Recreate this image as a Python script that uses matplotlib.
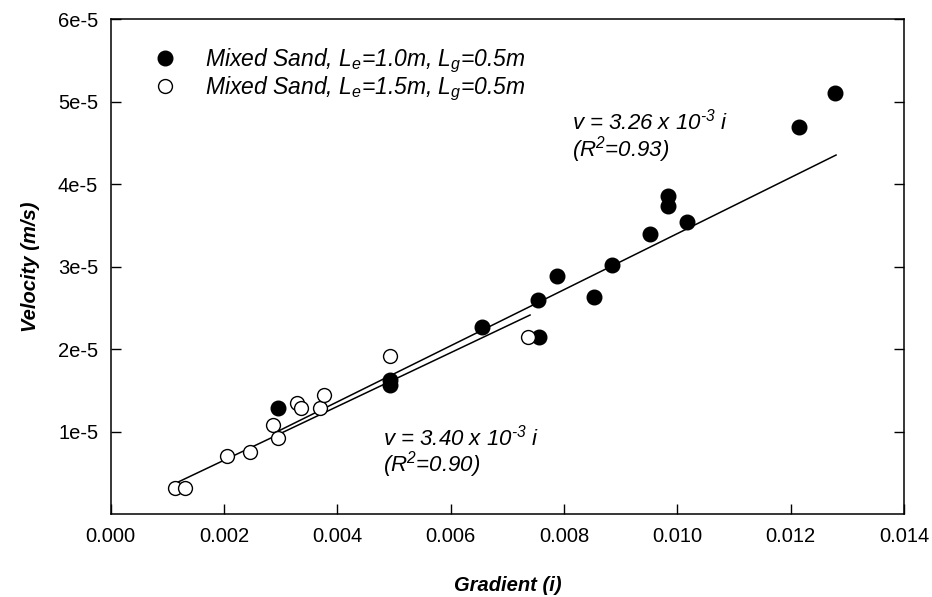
import matplotlib.pyplot as plt
import numpy as np

plt.rcParams['font.family'] = 'Liberation Sans'
plt.rcParams['mathtext.fontset'] = 'custom'
plt.rcParams['mathtext.it'] = 'Liberation Sans:italic'
plt.rcParams['mathtext.rm'] = 'Liberation Sans:italic'

# Mixed sand, Le=1.0m (filled)
grad_le10 = [0.00295, 0.00492, 0.00492, 0.00655, 0.00754, 0.00756, 0.00787, 0.00852,
             0.00885, 0.00951, 0.00984, 0.00984, 0.01017, 0.01214, 0.01279]
vel_le10 = [1.29e-5, 1.62e-5, 1.56e-5, 2.27e-5, 2.59e-5, 2.14e-5, 2.88e-5, 2.63e-5,
            3.02e-5, 3.39e-5, 3.86e-5, 3.74e-5, 3.54e-5, 4.69e-5, 5.11e-5]

# Mixed sand, Le=1.5m (open)
grad_le15 = [0.00113, 0.00131, 0.00205, 0.00245, 0.00287, 0.00295, 0.00328, 0.00336,
             0.00369, 0.00376, 0.00492, 0.00737]
vel_le15 = [0.31e-5, 0.31e-5, 0.70e-5, 0.75e-5, 1.08e-5, 0.92e-5, 1.35e-5, 1.29e-5,
            1.29e-5, 1.44e-5, 1.91e-5, 2.14e-5]

# fitted lines (slope, x range)
fit_le10 = 3.40e-3
fit_le10_range = [0.00295, 0.0128]
fit_le15 = 3.26e-3
fit_le15_range = [0.00115, 0.0074]

xticks = [0.000, 0.002, 0.004, 0.006, 0.008, 0.010, 0.012, 0.014]
yticks = [1e-5, 2e-5, 3e-5, 4e-5, 5e-5, 6e-5]
ytick_labels = ['1e-5', '2e-5', '3e-5', '4e-5', '5e-5', '6e-5']

fig = plt.figure(figsize=(9.32, 5.97), dpi=100)
ax = fig.add_axes([0.1188, 0.139, 0.8512, 0.829])

x1 = np.array(fit_le10_range)
ax.plot(x1, fit_le10 * x1, color='black', lw=1.1)
x2 = np.array(fit_le15_range)
ax.plot(x2, fit_le15 * x2, color='black', lw=1.1)

ax.plot(grad_le10, vel_le10, 'o', color='black', ms=10.5, mec='black', mew=1.0,
        label=r'Mixed Sand, L$_e$=1.0m, L$_g$=0.5m')
ax.plot(grad_le15, vel_le15, 'o', mfc='white', mec='black', ms=10, mew=1.0,
        label=r'Mixed Sand, L$_e$=1.5m, L$_g$=0.5m')

ax.set_xlim(0, 0.014)
ax.set_ylim(0, 6e-5)
ax.set_xticks(xticks)
ax.set_xticklabels(['%.3f' % t for t in xticks])
ax.set_yticks(yticks)
ax.set_yticklabels(ytick_labels)
ax.tick_params(direction='in', length=7.5, width=1, labelsize=14.5, pad=9)
ax.tick_params(axis='y', right=True)
for s in ax.spines.values():
    s.set_linewidth(1.1)

ax.set_xlabel('Gradient (i)', fontsize=14.5, fontweight='bold', style='italic', labelpad=22)
ax.set_ylabel('Velocity (m/s)', fontsize=14.5, fontweight='bold', style='italic', labelpad=13)

leg = ax.legend(loc='upper left', bbox_to_anchor=(0.054, 0.945), frameon=False,
                prop={'style': 'italic', 'size': 16.5}, handlelength=1.0,
                handletextpad=1.25, labelspacing=0.0, borderaxespad=0, borderpad=0)

ax.text(0.5815, 0.762, 'v = 3.26 x 10$^{\\text{-3}}$ i\n(R$^2$=0.93)', transform=ax.transAxes,
        fontsize=16, style='italic', va='center', linespacing=0.95)
ax.text(0.3428, 0.125, 'v = 3.40 x 10$^{\\text{-3}}$ i\n(R$^2$=0.90)', transform=ax.transAxes,
        fontsize=16, style='italic', va='center', linespacing=0.95)

fig.savefig('out.png', dpi=100)
